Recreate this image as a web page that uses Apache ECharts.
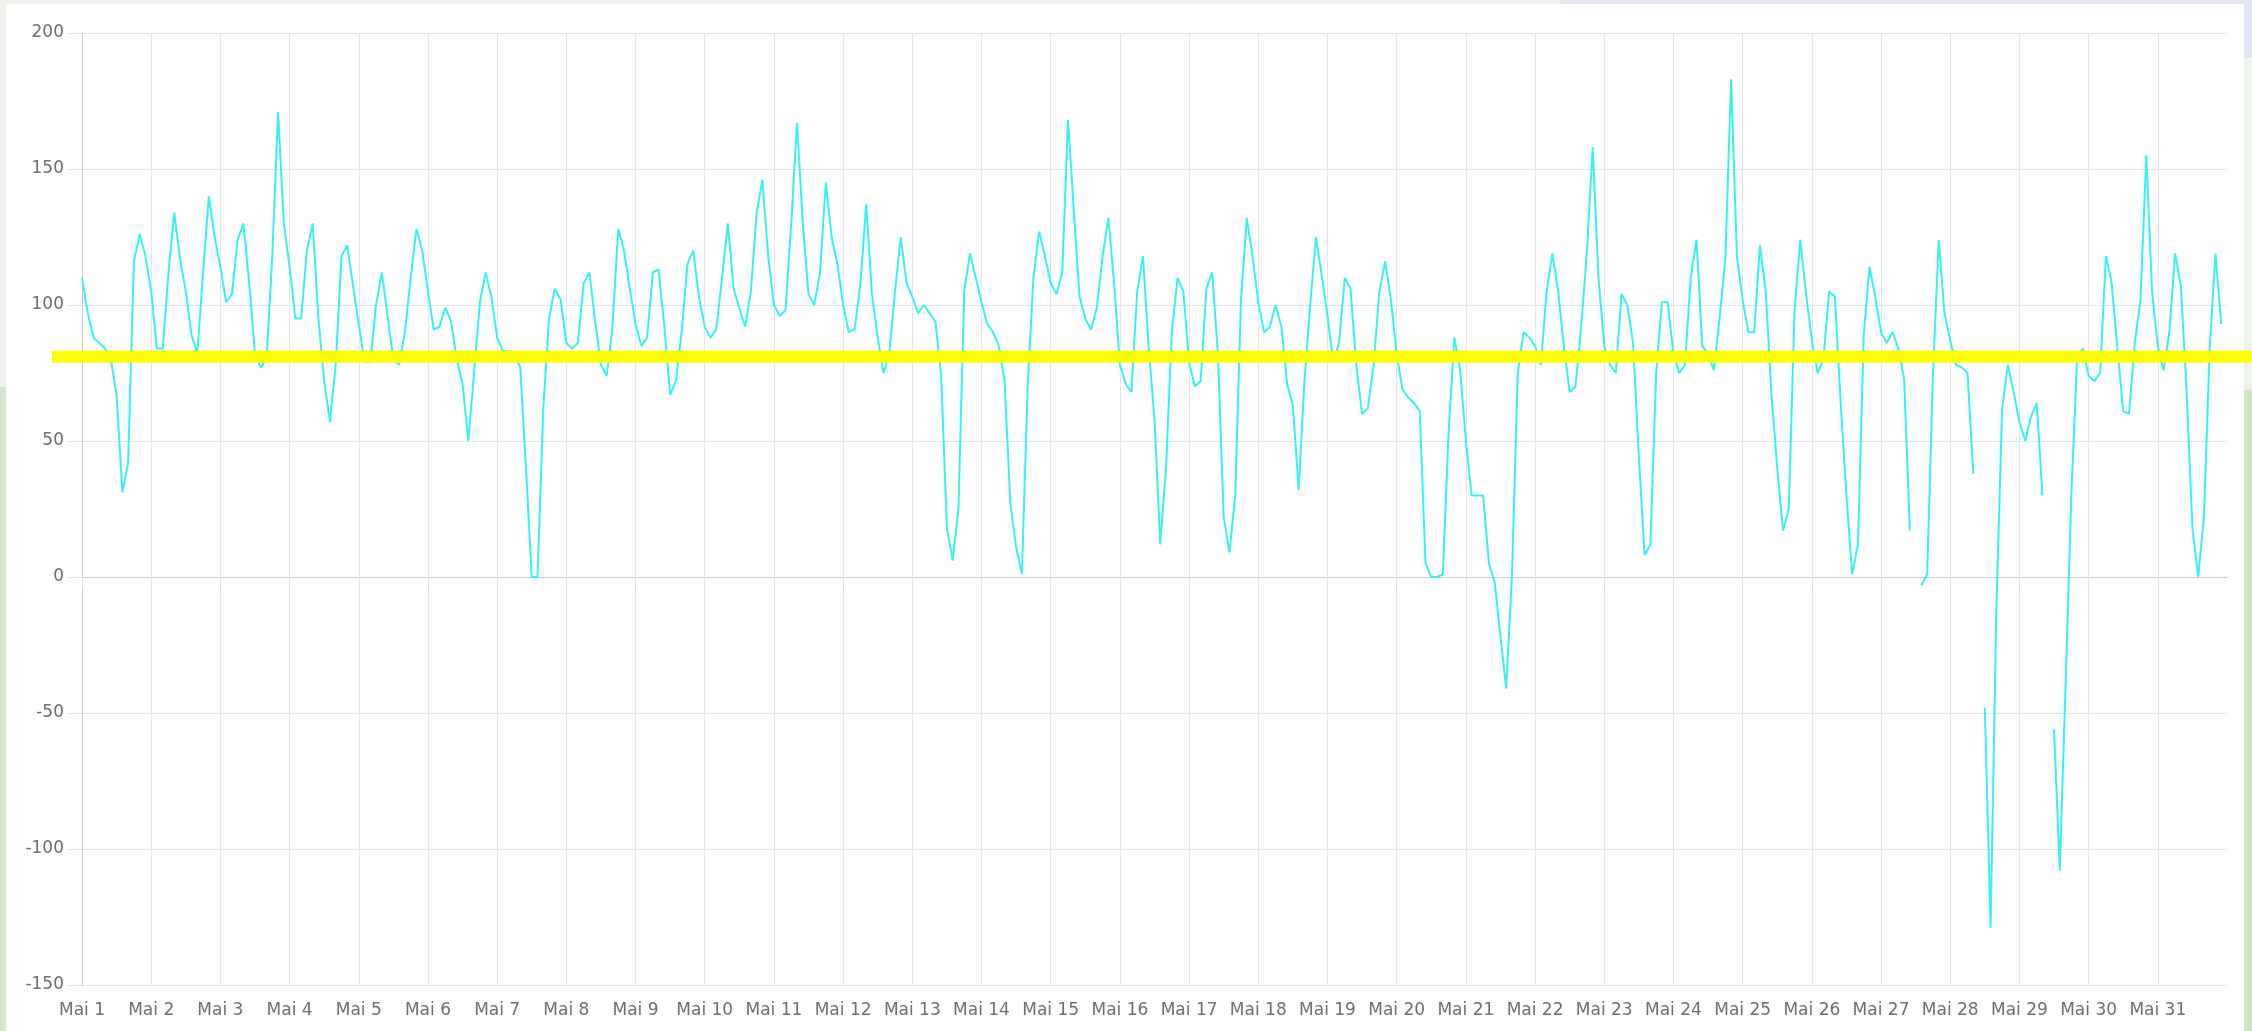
<!DOCTYPE html>
<html>
<head>
<meta charset="utf-8">
<script src="https://cdn.jsdelivr.net/npm/echarts@6/dist/echarts.min.js"></script>
<style>
  html, body { margin: 0; padding: 0; width: 2252px; height: 1031px; overflow: hidden; background: #eef4ec; }
  .strip { position: absolute; }
  #card { position: absolute; left: 6px; top: 4px; width: 2238px; height: 1027px; background: #fff; }
  #chart { position: absolute; left: 0; top: 0; width: 2252px; height: 1031px; }
</style>
</head>
<body>
<!-- Rand des Screenshots -->
<div class="strip" style="left:1560px;top:0;width:692px;height:4px;background:#e4e6f4"></div>
<div class="strip" style="left:0;top:387px;width:6px;height:644px;background:#d3e5cb"></div>
<div class="strip" style="left:2244px;top:0;width:8px;height:58px;background:#e3e6f5"></div>
<div class="strip" style="left:2244px;top:390px;width:8px;height:641px;background:#cfe3c6"></div>
<div id="card"></div>
<div id="chart"></div>

<script>
// Beschriftung der Tage
var dayLabels = [];
for (var d = 1; d <= 31; d++) dayLabels.push('Mai ' + d);

var week1 = [
  110, 97, 88, 86, 84, 80, 67, 31, 42, 116, 126, 118,
  105, 84, 84, 112, 134, 117, 105, 89, 82, 112, 140, 125,
  114, 101, 104, 124, 130, 108, 82, 77, 80, 118, 171, 130,
  114, 95, 95, 120, 130, 95, 72, 57, 78, 118, 122, 107,
  93, 79, 79, 100, 112, 96, 80, 78, 90, 110, 128, 120,
  105, 91, 92, 99, 94, 80, 71, 50, 75, 101, 112, 103,
  88, 83, 83, 82, 77, 40, 0, 0, 62, 95, 106, 102
];
var week2 = [
  86, 84, 86, 108, 112, 94, 78, 74, 92, 128, 120, 106,
  93, 85, 88, 112, 113, 92, 67, 72, 90, 115, 120, 103,
  92, 88, 91, 110, 130, 106, 99, 92, 105, 134, 146, 118,
  100, 96, 98, 130, 167, 130, 104, 100, 112, 145, 125, 115,
  100, 90, 91, 108, 137, 104, 88, 75, 82, 105, 125, 108,
  103, 97, 100, 97, 94, 74, 18, 6, 25, 105, 119, 110,
  101, 93, 90, 85, 72, 27, 11, 1, 70, 110, 127, 118
];
var week3 = [
  108, 104, 112, 168, 135, 103, 95, 91, 99, 118, 132, 108,
  78, 71, 68, 105, 118, 84, 58, 12, 40, 90, 110, 105,
  79, 70, 72, 106, 112, 82, 22, 9, 30, 102, 132, 118,
  101, 90, 92, 100, 92, 71, 63, 32, 72, 100, 125, 111,
  96, 79, 86, 110, 106, 78, 60, 62, 78, 105, 116, 102,
  82, 69, 66, 64, 61, 5, 0, 0, 1, 53, 88, 76,
  50, 30, 30, 30, 5, -2, -22, -41, 1, 75, 90, 88
];
var week4 = [
  85, 78, 105, 119, 105, 85, 68, 70, 92, 120, 158, 110,
  85, 78, 75, 104, 100, 86, 44, 8, 12, 75, 101, 101,
  82, 75, 78, 110, 124, 85, 82, 76, 95, 117, 183, 118,
  102, 90, 90, 122, 105, 67, 40, 17, 25, 98, 124, 104,
  87, 75, 80, 105, 103, 64, 30, 1, 12, 89, 114, 103,
  90, 86, 90, 84, 73, 17, null, -3, 1, 74, 124, 97,
  87, 78, 77, 75, 38, null, -48, -129, -12, 62, 78, 68
];
var week5 = [
  57, 50, 59, 64, 30, null, -56, -108, -40, 30, 80, 84,
  74, 72, 75, 118, 108, 84, 61, 60, 86, 102, 155, 105,
  85, 76, 90, 119, 107, 68, 18, 0, 22, 84, 119, 93
];

var threshold = 81;

var values = week1.concat(week2, week3, week4, week5);
var points = values.map(function (v, i) { return [i * 2, v]; });

var chart = echarts.init(document.getElementById('chart'), null, { renderer: 'canvas' });
var labelFont = { color: '#6e6e6e', fontSize: 17, fontFamily: 'DejaVu Sans' };

chart.setOption({
  animation: false,
  backgroundColor: 'transparent',
  grid: { left: 82, right: 25, top: 33, bottom: 46, outerBoundsMode: 'none' },
  xAxis: {
    type: 'value',
    min: 0,
    max: 744,
    interval: 24,
    axisLine: { show: true, lineStyle: { color: '#cccccc', width: 1 } },
    axisTick: { show: true, length: 12, lineStyle: { color: '#e2e2e2' } },
    splitLine: { show: true, showMaxLine: false, lineStyle: { color: '#e6e6e6', width: 1 } },
    axisLabel: Object.assign({
      margin: 17,
      showMaxLabel: false,
      formatter: function (v) { return dayLabels[v / 24] || ''; }
    }, labelFont)
  },
  yAxis: {
    type: 'value',
    min: -150,
    max: 200,
    interval: 50,
    axisLine: { show: true, lineStyle: { color: '#c8c8c8', width: 1 } },
    axisTick: { show: true, length: 14, lineStyle: { color: '#e2e2e2' } },
    splitLine: { show: true, lineStyle: { color: '#e6e6e6', width: 1 } },
    axisLabel: Object.assign({ margin: 18 }, labelFont)
  },
  series: [{
    type: 'line',
    data: points,
    showSymbol: false,
    connectNulls: false,
    lineStyle: { color: '#38f2f2', width: 2 },
    itemStyle: { color: '#38f2f2' },
    z: 3
  }]
});

// gelbe Markierung quer über das Bild
var yPix = chart.convertToPixel({ yAxisIndex: 0 }, threshold);
chart.setOption({
  graphic: [{
    type: 'line',
    z: 100,
    shape: { x1: 52, y1: yPix, x2: 2252, y2: yPix },
    style: { stroke: '#ffff00', lineWidth: 12 }
  }]
});
</script>
</body>
</html>
